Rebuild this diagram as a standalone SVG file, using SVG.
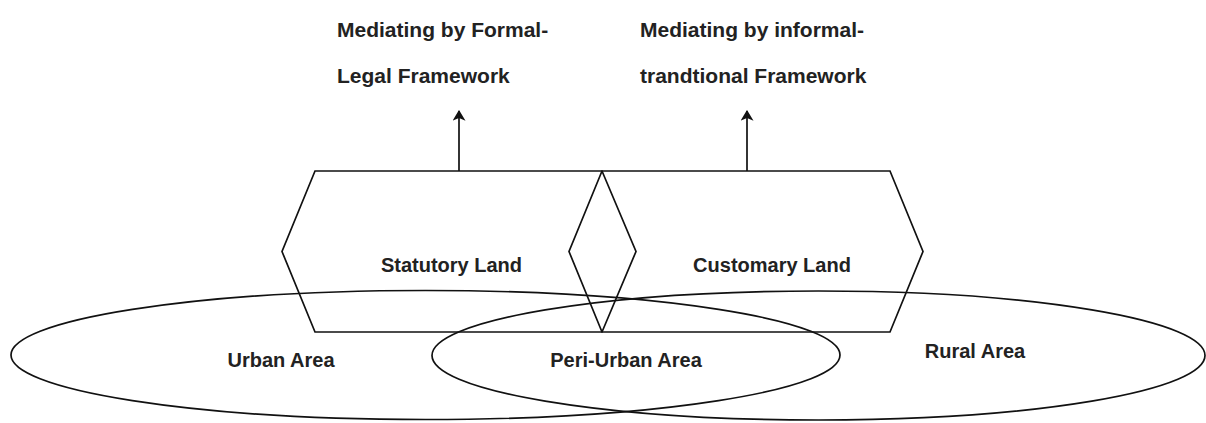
<svg xmlns="http://www.w3.org/2000/svg" width="1206" height="423" viewBox="0 0 1206 423">
  <style>
    .shape { fill: none; stroke: #111; stroke-width: 1.7; }
    .edge { fill: none; stroke: #111; stroke-width: 1.7; }
    .label { font-family: "Liberation Sans", Arial, sans-serif; font-weight: bold; font-size: 20px; fill: #222; }
    .title { font-family: "Liberation Sans", Arial, sans-serif; font-weight: bold; font-size: 21px; fill: #222; }
  </style>
  <defs>
    <marker id="arrow" viewBox="0 0 10 12" refX="9" refY="6" markerWidth="11" markerHeight="13" markerUnits="userSpaceOnUse" orient="auto">
      <path d="M0,0 L10,6 L0,12 L2.5,6 Z" fill="#111"/>
    </marker>
  </defs>

  <rect width="1206" height="423" fill="#ffffff"/>

  <!-- land tenure hexagons -->
  <g id="statutory-land">
    <polygon class="shape" points="315,171 602,171 636,251.5 602,332 315,332 282,251.5"/>
    <text class="label" x="451.5" y="272" text-anchor="middle">Statutory Land</text>
  </g>
  <g id="customary-land">
    <polygon class="shape" points="602,171 890,171 923,251.5 890,332 602,332 569,251.5"/>
    <text class="label" x="772" y="272" text-anchor="middle">Customary Land</text>
  </g>

  <!-- spatial areas -->
  <g id="urban-area">
    <ellipse class="shape" cx="425.5" cy="355" rx="414.5" ry="64.5"/>
    <text class="label" x="281" y="367" text-anchor="middle">Urban Area</text>
  </g>
  <g id="rural-area">
    <ellipse class="shape" cx="818.5" cy="355.5" rx="386.5" ry="64.5"/>
    <text class="label" x="975" y="358" text-anchor="middle">Rural Area</text>
  </g>
  <g id="peri-urban-area">
    <text class="label" x="626" y="367" text-anchor="middle">Peri-Urban Area</text>
  </g>

  <!-- mediating frameworks -->
  <g id="formal-framework">
    <text class="title" x="337" y="37">Mediating by Formal-</text>
    <text class="title" x="337" y="83">Legal Framework</text>
  </g>
  <g id="informal-framework">
    <text class="title" x="640" y="37">Mediating by informal-</text>
    <text class="title" x="640" y="83">trandtional Framework</text>
  </g>

  <g id="connectors">
    <line class="edge" x1="459" y1="171" x2="459" y2="111" marker-end="url(#arrow)"/>
    <line class="edge" x1="747" y1="171" x2="747" y2="111" marker-end="url(#arrow)"/>
  </g>
</svg>
